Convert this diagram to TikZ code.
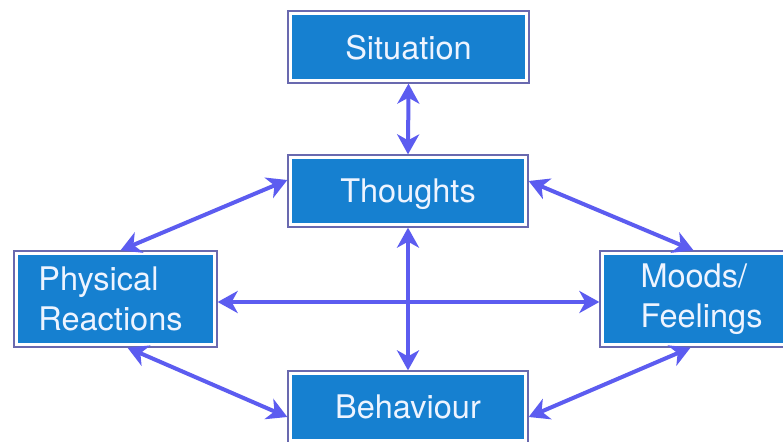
\documentclass[tikz,border=0pt]{standalone}
\usepackage{fontspec}
\setmainfont{TeX Gyre Heros}
\usetikzlibrary{arrows.meta}
\definecolor{boxblue}{RGB}{22,128,208}
\definecolor{edgecol}{RGB}{105,105,175}
\definecolor{arrowcol}{RGB}{92,92,240}
\definecolor{txtcol}{RGB}{238,244,255}
\tikzset{
  boxnode/.style={draw=edgecol, line width=1.3pt, fill=white, inner sep=0pt,
    text=txtcol, font=\fontsize{32.5}{40}\selectfont, align=left,
    path picture={\fill[boxblue] ([shift={(4.4pt,-4.4pt)}]path picture bounding box.north west)
      rectangle ([shift={(-4.4pt,4.4pt)}]path picture bounding box.south east);}},
  link/.style={draw=arrowcol, line width=4pt,
    {Stealth[length=20pt,width=22pt,inset=6pt]}-{Stealth[length=20pt,width=22pt,inset=6pt]}}
}
\begin{document}
\begin{tikzpicture}[x=1pt,y=-1pt]
\useasboundingbox[fill=white] (0,0) rectangle (783,441);
\node[boxnode, minimum width=241pt, minimum height=72pt, text depth=0pt] (sit) at (408.5,47) {Situation};
\node[boxnode, minimum width=240pt, minimum height=72pt, text depth=0pt] (th) at (408,191) {Thoughts};
\node[boxnode, minimum width=203pt, minimum height=96pt] (phys) at (115.5,299) {Physical\\Reactions\hspace*{10pt}};
\node[boxnode, minimum width=203pt, minimum height=96pt] (mood) at (701.5,299) {Moods/\\Feelings};
\node[boxnode, minimum width=240pt, minimum height=72pt, text depth=0pt] (beh) at (408,407) {Behaviour};
\draw[link] (sit.south) -- (th.north);
\draw[link] (th.south) -- (beh.north);
\draw[link] ([yshift=-3pt]phys.east) -- ([yshift=-3pt]mood.west);
\draw[link] ([yshift=11pt]th.west) -- ([xshift=5pt]phys.north);
\draw[link] ([yshift=10pt]th.east) -- ([xshift=-8pt]mood.north);
\draw[link] ([xshift=12pt]phys.south) -- ([yshift=-10pt]beh.west);
\draw[link] ([xshift=-11pt]mood.south) -- ([yshift=-10pt]beh.east);
\end{tikzpicture}
\end{document}
